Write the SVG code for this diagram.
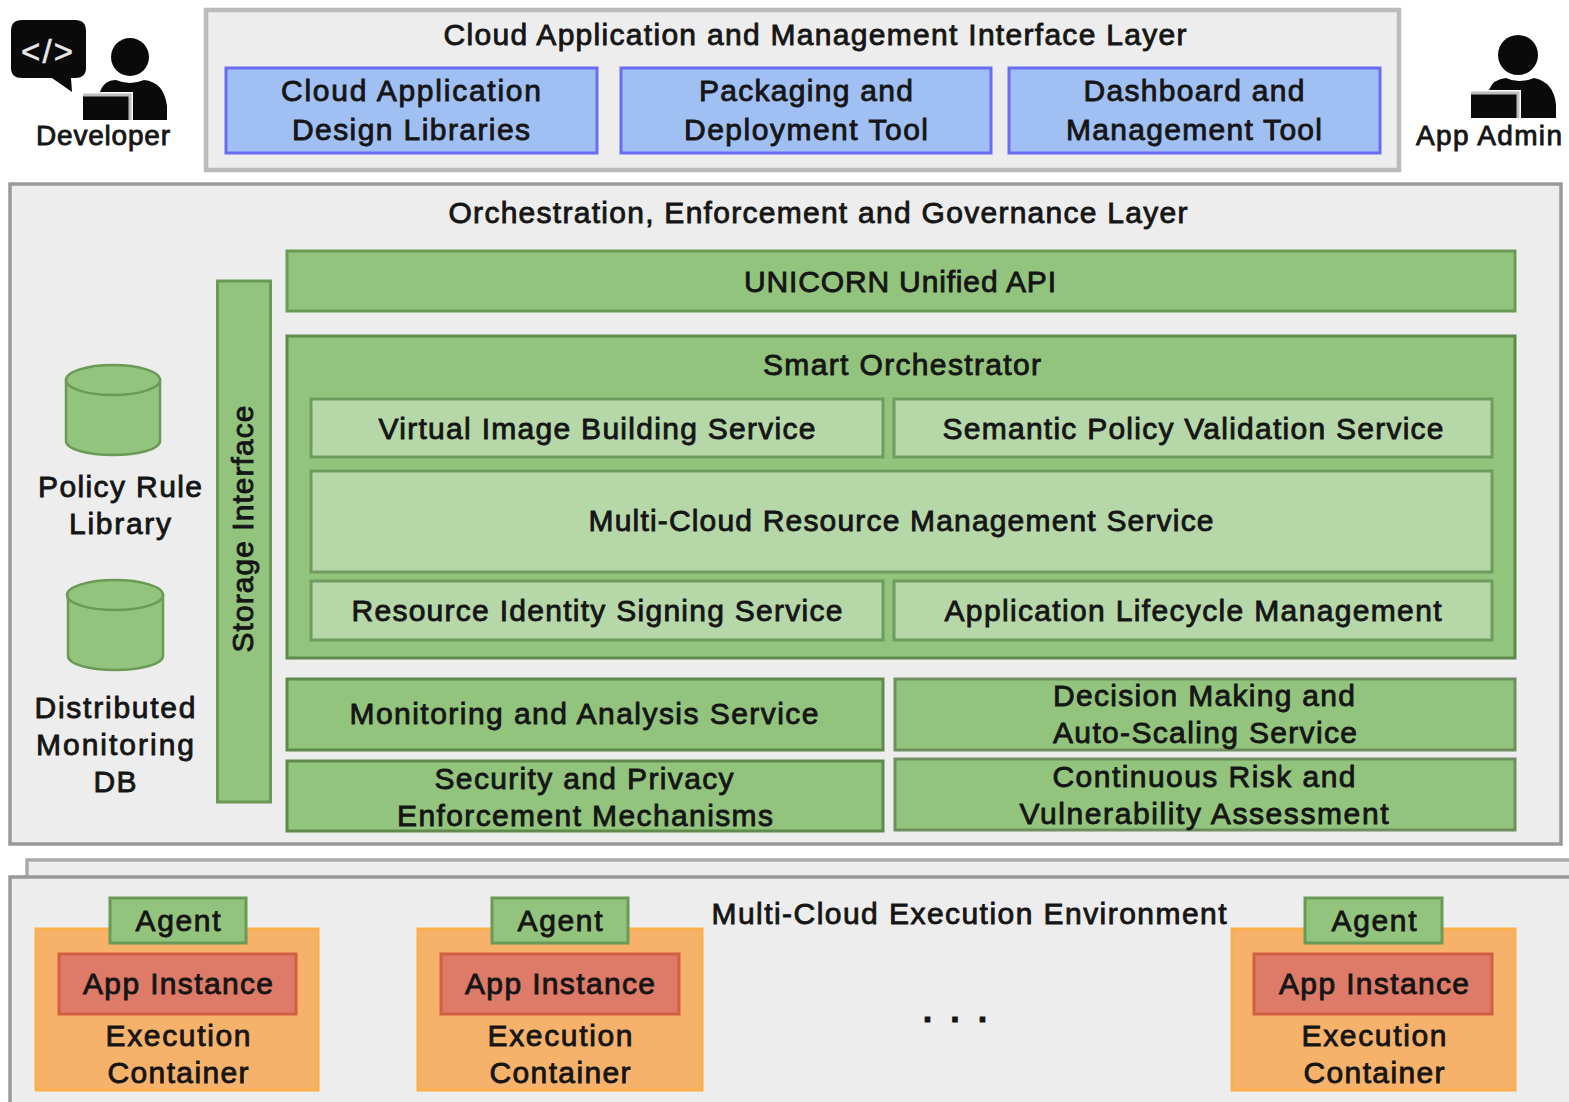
<svg xmlns="http://www.w3.org/2000/svg" width="1569" height="1102" viewBox="0 0 1569 1102">
<style>
text{font-family:"Liberation Sans",Arial,sans-serif;font-size:30px;fill:#151515;text-anchor:middle;stroke:#151515;stroke-width:.85px}
.layer{fill:#ededed;stroke:#999;stroke-width:3.5}
.top{fill:#ededed;stroke:#bbb;stroke-width:4.5}
.blue{fill:#a0bff2;stroke:#6a6cf4;stroke-width:3}
.green{fill:#93c47d;stroke:#6a9a55;stroke-width:3}
.dk{fill:#93c47d;stroke:#5f8a4c;stroke-width:3}
.light{fill:#b6d7a8;stroke:#6f9c5e;stroke-width:3}
.orange{fill:#f6b26b;stroke:#fbae4c;stroke-width:3}
.red{fill:#dd7b68;stroke:#d25f43;stroke-width:3}
.ic{fill:#0a0a0a}
.edge{fill:none;stroke:#bdbdbd;stroke-width:3}
</style>
<rect width="1569" height="1102" fill="#fff"/>
<g id="developer">
<path class="ic" d="M22 20H75Q86 20 86 31V68Q86 78 75 78H71L72 92L52 78H22Q11 78 11 68V31Q11 20 22 20Z"/>
<text x="47" y="63" textLength="52" style="fill:#e8e8e8;stroke:#e8e8e8;font-size:33px;stroke-width:.5px">&lt;/&gt;</text>
<circle class="ic" cx="130" cy="57" r="19"/>
<path class="ic" d="M100 92Q104 80 116 80Q130 86 144 80Q164 82 167 106V120H133V92Z"/>
<rect class="ic" x="83" y="95" width="47" height="25"/>
<path class="edge" d="M83 95H130V120"/>
<text x="103" y="145" textLength="134" style="font-size:28px">Developer</text>
</g>
<g id="app-admin">
<circle class="ic" cx="1518" cy="55" r="20"/>
<path class="ic" d="M1489 90Q1493 79 1506 78Q1518 84 1534 78Q1554 82 1556 105V118H1521V90Z"/>
<rect class="ic" x="1471" y="93" width="47" height="25"/>
<path class="edge" d="M1471 93H1518V118"/>
<text x="1489" y="145" textLength="146" style="font-size:28px">App Admin</text>
</g>
<g id="interface-layer">
<rect class="top" x="206" y="10" width="1193" height="160"/>
<text x="815" y="45" textLength="743">Cloud Application and Management Interface Layer</text>
</g>
<g id="design-libraries"><rect class="blue" x="226" y="68" width="371" height="85"/><text x="411" y="101" textLength="260">Cloud Application</text><text x="411" y="140" textLength="238">Design Libraries</text></g>
<g id="packaging-tool"><rect class="blue" x="621" y="68" width="370" height="85"/><text x="806" y="101" textLength="214">Packaging and</text><text x="806" y="140" textLength="244">Deployment Tool</text></g>
<g id="dashboard-tool"><rect class="blue" x="1009" y="68" width="371" height="85"/><text x="1194" y="101" textLength="221">Dashboard and</text><text x="1194" y="140" textLength="256">Management Tool</text></g>
<g id="orchestration-layer">
<rect class="layer" x="10" y="184" width="1551" height="660"/>
<text x="818" y="223" textLength="739">Orchestration, Enforcement and Governance Layer</text>
</g>
<g id="unicorn-api"><rect class="green" x="287" y="251" width="1228" height="60"/><text x="900" y="292" textLength="312">UNICORN Unified API</text></g>
<g id="storage-interface"><rect class="green" x="217.500" y="281" width="53" height="521"/><text transform="translate(253,529) rotate(-90)" textLength="247">Storage Interface</text></g>
<g id="policy-rule-library">
<path class="green" style="stroke-width:2.5" d="M66 380V441C66 449 87 455 113 455S160 449 160 441V380Z"/>
<ellipse class="green" style="stroke-width:2.5" cx="113" cy="380" rx="47" ry="15"/>
<text x="120" y="497" textLength="164">Policy Rule</text><text x="120" y="534" textLength="102">Library</text>
</g>
<g id="monitoring-db">
<path class="green" style="stroke-width:2.5" d="M68 595V656C68 664 89 670 115 670S163 664 163 656V595Z"/>
<ellipse class="green" style="stroke-width:2.5" cx="115" cy="595" rx="48" ry="15"/>
<text x="115" y="718" textLength="161">Distributed</text><text x="115" y="755" textLength="158">Monitoring</text><text x="115" y="792" textLength="43">DB</text>
</g>
<g id="smart-orchestrator"><rect class="dk" x="287" y="336" width="1228" height="322"/><text x="902" y="375" textLength="278">Smart Orchestrator</text></g>
<g id="virtual-image"><rect class="light" x="311" y="399" width="572" height="58"/><text x="597" y="439" textLength="437">Virtual Image Building Service</text></g>
<g id="semantic-policy"><rect class="light" x="894" y="399" width="598" height="58"/><text x="1193" y="439" textLength="501">Semantic Policy Validation Service</text></g>
<g id="resource-management"><rect class="light" x="311" y="471" width="1181" height="101"/><text x="901" y="531" textLength="625">Multi-Cloud Resource Management Service</text></g>
<g id="identity-signing"><rect class="light" x="311" y="581" width="572" height="59"/><text x="597" y="621" textLength="491">Resource Identity Signing Service</text></g>
<g id="lifecycle"><rect class="light" x="894" y="581" width="598" height="59"/><text x="1193" y="621" textLength="497">Application Lifecycle Management</text></g>
<g id="monitoring"><rect class="dk" x="287" y="679" width="596" height="71"/><text x="584" y="724" textLength="469">Monitoring and Analysis Service</text></g>
<g id="decision"><rect class="dk" x="895" y="679" width="620" height="71" style="stroke:#6f8f60"/><text x="1204" y="706" textLength="302">Decision Making and</text><text x="1205" y="743" textLength="304">Auto-Scaling Service</text></g>
<g id="security"><rect class="dk" x="287" y="761" width="596" height="70"/><text x="584" y="789" textLength="299">Security and Privacy</text><text x="585" y="826" textLength="376">Enforcement Mechanisms</text></g>
<g id="risk"><rect class="dk" x="895" y="759" width="620" height="71" style="stroke:#6f8f60"/><text x="1204" y="787" textLength="303">Continuous Risk and</text><text x="1204" y="824" textLength="369">Vulnerability Assessment</text></g>
<g id="execution-environment">
<rect x="27" y="860" width="1600" height="300" fill="#ededed" stroke="#aaa" stroke-width="3.500"/>
<rect class="layer" x="10" y="877" width="1600" height="300"/>
<text x="969" y="924" textLength="515">Multi-Cloud Execution Environment</text>
<text x="964" y="1022" style="letter-spacing:18px;font-size:34px;font-weight:bold">...</text>
</g>
<g id="container-1">
<rect class="orange" x="36" y="929" width="282" height="161"/>
<rect class="green" x="110" y="898" width="136" height="45"/><text x="178" y="931" textLength="85">Agent</text>
<rect class="red" x="59" y="954" width="237" height="60"/><text x="178" y="994" textLength="190">App Instance</text>
<text x="178" y="1046" textLength="145">Execution</text><text x="178" y="1083" textLength="141">Container</text>
</g>
<g id="container-2">
<rect class="orange" x="418" y="929" width="284" height="161"/>
<rect class="green" x="492" y="898" width="136" height="45"/><text x="560" y="931" textLength="85">Agent</text>
<rect class="red" x="441" y="954" width="238" height="60"/><text x="560" y="994" textLength="190">App Instance</text>
<text x="560" y="1046" textLength="145">Execution</text><text x="560" y="1083" textLength="141">Container</text>
</g>
<g id="container-3">
<rect class="orange" x="1232" y="929" width="283" height="161"/>
<rect class="green" x="1305" y="898" width="137" height="45"/><text x="1374" y="931" textLength="85">Agent</text>
<rect class="red" x="1254" y="954" width="238" height="60"/><text x="1374" y="994" textLength="190">App Instance</text>
<text x="1374" y="1046" textLength="145">Execution</text><text x="1374" y="1083" textLength="141">Container</text>
</g>
<g id="connectors"/>
</svg>
